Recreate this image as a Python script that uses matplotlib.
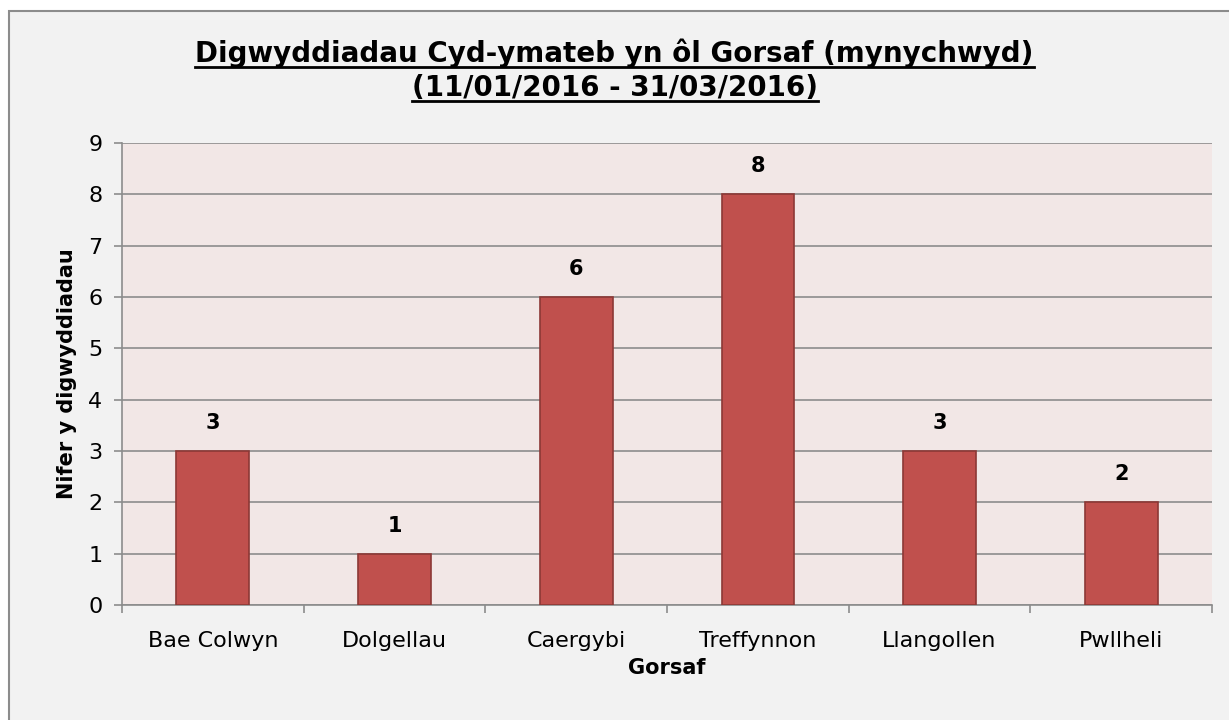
import matplotlib
matplotlib.use("Agg")
import matplotlib.pyplot as plt
from matplotlib.patches import Rectangle
from matplotlib.lines import Line2D

categories = ["Bae Colwyn", "Dolgellau", "Caergybi", "Treffynnon", "Llangollen", "Pwllheli"]
values = [3, 1, 6, 8, 3, 2]
yticks = list(range(0, 10))
title_lines = ["Digwyddiadau Cyd-ymateb yn ôl Gorsaf (mynychwyd)", "(11/01/2016 - 31/03/2016)"]

W, H = 1229, 720
fig = plt.figure(figsize=(W / 100, H / 100), dpi=100)
fig.patch.set_facecolor("white")
bg = Rectangle((9 / W, -0.05), 1.1, 1 - 11 / H + 0.05, transform=fig.transFigure,
               facecolor="#F2F2F2", edgecolor="#8C8C8C", linewidth=1.5, zorder=-10)
fig.patches.append(bg)

ax = fig.add_axes([122 / W, 1 - 605 / H, (1212 - 122) / W, (605 - 143) / H])
ax.set_zorder(1)
ax.set_facecolor("#F2E7E6")
x = list(range(len(categories)))
ax.bar(x, values, width=0.4, color="#C0504D", edgecolor="#8C3836", linewidth=1.2, zorder=3)
for xi, v in zip(x, values):
    ax.text(xi, v + 0.35, str(v), ha="center", va="bottom", fontsize=15, fontweight="bold")

ax.set_xlim(-0.5, len(categories) - 0.5)
ax.set_ylim(0, 9)
ax.set_yticks(yticks)
ax.set_yticklabels([str(t) for t in yticks], fontsize=16)
ax.set_xticks(x)
ax.set_xticklabels(categories, fontsize=16)
ax.set_xticks([i - 0.5 for i in range(len(categories) + 1)], minor=True)
ax.tick_params(axis="x", which="major", length=0, pad=19)
ax.tick_params(axis="x", which="minor", length=6, color="#8C8C8C", width=1.2)
ax.tick_params(axis="y", length=6, color="#8C8C8C", width=1.2, pad=8)
ax.grid(axis="y", color="#8C8C8C", linewidth=1.2, zorder=1)
for s in ["top", "right"]:
    ax.spines[s].set_visible(False)
for s in ["left", "bottom"]:
    ax.spines[s].set_color("#8C8C8C")
    ax.spines[s].set_linewidth(1.2)

ax.set_xlabel("Gorsaf", fontsize=15, fontweight="bold", labelpad=5)
ax.set_ylabel("Nifer y digwyddiadau", fontsize=15, fontweight="bold", labelpad=8)

ys = [1 - 53 / H, 1 - 88 / H]
texts = []
for line, y in zip(title_lines, ys):
    t = fig.text(0.5, y, line, ha="center", va="center", fontsize=20, fontweight="bold")
    texts.append(t)

fig.canvas.draw()
r = fig.canvas.get_renderer()
for t in texts:
    bb = t.get_window_extent(renderer=r)
    yl = (bb.y0 + 1) / H
    fig.lines.append(Line2D([bb.x0 / W, bb.x1 / W], [yl, yl], transform=fig.transFigure,
                            color="black", linewidth=2))

fig.savefig("out.png", dpi=100, facecolor=fig.get_facecolor())
